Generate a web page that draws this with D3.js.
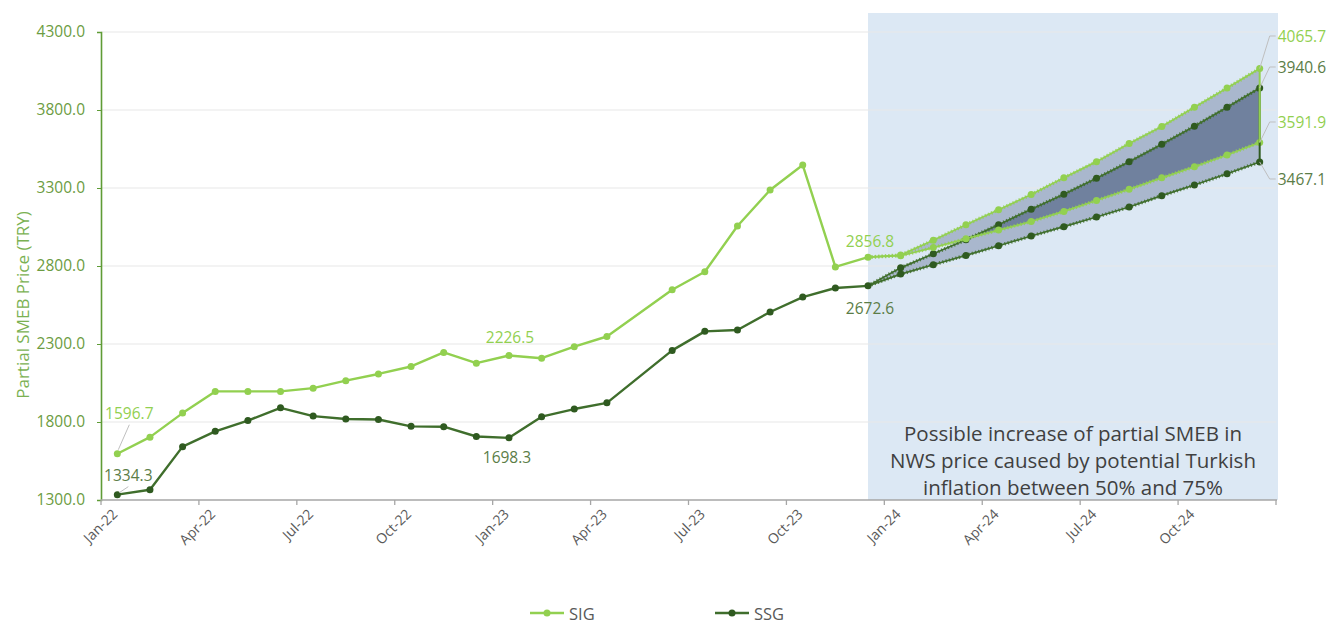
<!DOCTYPE html>
<html>
<head>
<meta charset="utf-8">
<script src="https://cdn.jsdelivr.net/npm/d3@7/dist/d3.min.js"></script>
<style>
  html, body { margin: 0; padding: 0; background: #ffffff; }
  svg { display: block; font-family: "Open Sans", "Noto Sans", sans-serif; }
</style>
</head>
<body>
<svg id="chart" width="1344" height="624"></svg>
<script>
// Monthly categories, Jan-22 .. Dec-24
const months = [
  "Jan-22","Feb-22","Mar-22","Apr-22","May-22","Jun-22","Jul-22","Aug-22","Sep-22","Oct-22","Nov-22","Dec-22",
  "Jan-23","Feb-23","Mar-23","Apr-23","May-23","Jun-23","Jul-23","Aug-23","Sep-23","Oct-23","Nov-23","Dec-23",
  "Jan-24","Feb-24","Mar-24","Apr-24","May-24","Jun-24","Jul-24","Aug-24","Sep-24","Oct-24","Nov-24","Dec-24"
];
const histMonths = months.slice(0, 24);
const projMonths = months.slice(23);   // Dec-23 anchor + 2024

// Observed partial SMEB prices (TRY); May-23 not collected
const sig = [1596.7, 1703, 1857, 1996, 1996, 1996, 2017, 2065, 2108, 2156, 2246, 2177,
             2226.5, 2209, 2283, 2348, null, 2648, 2763, 3056, 3287, 3447, 2794, 2856.8];
const ssg = [1334.3, 1366, 1642, 1740, 1809, 1891, 1838, 1819, 1816, 1772, 1770, 1707,
             1698.3, 1834, 1883, 1923, null, 2259, 2381, 2390, 2505, 2601, 2659, 2672.6];

// 2024 projections under 75% and 50% inflation
const sig75 = [2870, 2965, 3065, 3160, 3258, 3365, 3469, 3585, 3694, 3817, 3941, 4065.7];
const ssg75 = [2788, 2878, 2968, 3065, 3164, 3260, 3362, 3469, 3580, 3696, 3817, 3940.6];
const sig50 = [2866, 2918, 2975, 3030, 3085, 3150, 3220, 3292, 3365, 3436, 3512, 3591.9];
const ssg50 = [2748, 2808, 2868, 2930, 2992, 3052, 3114, 3178, 3251, 3319, 3391, 3467.1];

const yTicks = [1300, 1800, 2300, 2800, 3300, 3800, 4300];
const xTickMonths = ["Jan-22","Apr-22","Jul-22","Oct-22","Jan-23","Apr-23","Jul-23","Oct-23","Jan-24","Apr-24","Jul-24","Oct-24"];
const seriesNames = ["SIG", "SSG"];
const noteLines = [
  "Possible increase of partial SMEB in",
  "NWS price caused by potential Turkish",
  "inflation between 50% and 75%"
];

const C = {
  sig: "#92d050", ssg: "#3f6e2c", ssgDot: "#2f5a20",
  band: "#a9b7cd", overlap: "#70819e", box: "#dce8f4",
  grid: "#e7e7e7", sigText: "#92d050", ssgText: "#5b7d47",
  yAxis: "#5f9c36", yText: "#6c9c42", yTitle: "#7ab152",
  xAxis: "#a6a6a6", xText: "#595959", note: "#404040", leader: "#bfbfbf"
};

const svg = d3.select("#chart");
const plotL = 101, plotR = 1276, plotT = 32, plotB = 500;

const x = d3.scaleBand().domain(months).range([plotL, plotR]).padding(0);
const cx = m => x(m) + x.bandwidth() / 2;
const y = d3.scaleLinear().domain([1300, 4300]).range([plotB, plotT]);

const hist = (vals) => histMonths.map((m, i) => ({ m, v: vals[i] }));
const proj = (anchor, vals) => projMonths.map((m, i) => ({ m, v: i === 0 ? anchor : vals[i - 1] }));

const sigHist = hist(sig), ssgHist = hist(ssg);
const sig75P = proj(sig[23], sig75), sig50P = proj(sig[23], sig50);
const ssg75P = proj(ssg[23], ssg75), ssg50P = proj(ssg[23], ssg50);

// Projection window background
svg.append("rect")
  .attr("x", cx("Dec-23"))
  .attr("y", plotT - 19)
  .attr("width", plotR + 2 - cx("Dec-23"))
  .attr("height", plotB - (plotT - 19))
  .attr("fill", C.box);

// Gridlines
svg.append("g").selectAll("line").data(yTicks.slice(1)).join("line")
  .attr("x1", plotL).attr("x2", plotR)
  .attr("y1", d => y(d)).attr("y2", d => y(d))
  .attr("stroke", C.grid).attr("stroke-width", 1.2);

// Projection bands
const band = d3.area().x(d => cx(d.m)).y0(d => y(d.lo)).y1(d => y(d.hi));
const sigBand = sig75P.map((d, i) => ({ m: d.m, hi: d.v, lo: sig50P[i].v }));
const ssgBand = ssg75P.map((d, i) => ({ m: d.m, hi: d.v, lo: ssg50P[i].v }));

svg.append("path").attr("d", band(sigBand)).attr("fill", C.band);
svg.append("path").attr("d", band(ssgBand)).attr("fill", C.band);

const defs = svg.append("defs");
defs.append("clipPath").attr("id", "sigBandClip")
  .append("path").attr("d", band(sigBand));
svg.append("path").attr("d", band(ssgBand))
  .attr("fill", C.overlap).attr("clip-path", "url(#sigBandClip)");

const line = d3.line().defined(d => d.v != null).x(d => cx(d.m)).y(d => y(d.v));

// Projection lines
function projLine(data, color, dotColor) {
  svg.append("path").attr("d", line(data)).attr("fill", "none")
    .attr("stroke", color).attr("stroke-width", 3.6)
    .attr("stroke-dasharray", "1.2,2.2").attr("opacity", 0.85);
  svg.append("path").attr("d", line(data)).attr("fill", "none")
    .attr("stroke", color).attr("stroke-width", 1.7);
  svg.append("g").selectAll("circle").data(data.slice(1)).join("circle")
    .attr("cx", d => cx(d.m)).attr("cy", d => y(d.v)).attr("r", 3.5)
    .attr("fill", dotColor);
}
projLine(ssg50P, C.ssg, C.ssgDot);
projLine(ssg75P, C.ssg, C.ssgDot);
projLine(sig50P, C.sig, C.sig);
projLine(sig75P, C.sig, C.sig);

// Band closing edges at Dec-24
const lastM = months[months.length - 1];
svg.append("line").attr("x1", cx(lastM)).attr("x2", cx(lastM))
  .attr("y1", y(ssg75[11])).attr("y2", y(ssg50[11]))
  .attr("stroke", C.ssgDot).attr("stroke-width", 2);
svg.append("line").attr("x1", cx(lastM)).attr("x2", cx(lastM))
  .attr("y1", y(sig75[11])).attr("y2", y(sig50[11]))
  .attr("stroke", C.sig).attr("stroke-width", 2);

// Observed series
const lineAll = d3.line().x(d => cx(d.m)).y(d => y(d.v));
function histLine(data, color, dotColor) {
  const pts = data.filter(d => d.v != null);
  svg.append("path").attr("d", lineAll(pts)).attr("fill", "none")
    .attr("stroke", color).attr("stroke-width", 2.4).attr("stroke-linejoin", "round");
  svg.append("g").selectAll("circle").data(pts).join("circle")
    .attr("cx", d => cx(d.m)).attr("cy", d => y(d.v)).attr("r", 3.5)
    .attr("fill", dotColor);
}
histLine(sigHist, C.sig, C.sig);
histLine(ssgHist, C.ssg, C.ssgDot);

// Y axis
const yAxis = svg.append("g").attr("transform", `translate(${plotL},0)`)
  .call(d3.axisLeft(y).tickValues(yTicks).tickFormat(d3.format(".1f")).tickSize(4).tickPadding(12));
yAxis.select(".domain").attr("stroke", C.yAxis).attr("stroke-width", 1.6);
yAxis.selectAll(".tick line").attr("stroke", C.yAxis);
yAxis.selectAll(".tick text").attr("fill", C.yText)
  .style("font-size", "15.5px").style("font-family", "'Open Sans', sans-serif");

svg.append("text")
  .attr("transform", `translate(22,305) rotate(-90)`)
  .attr("text-anchor", "middle").attr("dominant-baseline", "central")
  .attr("fill", C.yTitle).style("font-size", "17px")
  .text("Partial SMEB Price (TRY)");

// X axis
const xg = svg.append("g");
xg.append("line").attr("x1", plotL).attr("x2", plotR + 1)
  .attr("y1", plotB).attr("y2", plotB)
  .attr("stroke", C.xAxis).attr("stroke-width", 1.5);
const tickPos = xTickMonths.map(m => x(m)).concat([plotR]);
xg.selectAll("line.tk").data(tickPos).join("line").attr("class", "tk")
  .attr("x1", d => d).attr("x2", d => d)
  .attr("y1", plotB).attr("y2", plotB + 5)
  .attr("stroke", C.xAxis).attr("stroke-width", 1.3);
xg.selectAll("text").data(xTickMonths).join("text")
  .attr("transform", m => `translate(${cx(m) + 1},${plotB + 15}) rotate(-45)`)
  .attr("text-anchor", "end")
  .attr("fill", C.xText).style("font-size", "14px")
  .text(m => m);

// Value labels
const fmt = d3.format(".1f");
function valueLabel(m, v, dx, dy, color, size) {
  svg.append("text")
    .attr("x", cx(m) + dx).attr("y", y(v) + dy)
    .attr("text-anchor", "middle").attr("dominant-baseline", "central")
    .attr("fill", color).style("font-size", size + "px")
    .text(fmt(v));
}
function leader(pts) {
  svg.append("path").attr("d", d3.line()(pts)).attr("fill", "none")
    .attr("stroke", C.leader).attr("stroke-width", 1);
}
leader([[cx("Jan-22") + 1, y(sig[0]) - 4], [cx("Jan-22") + 12, y(sig[0]) - 29]]);
valueLabel("Jan-22", sig[0], 12, -41, C.sigText, 15.5);
leader([[cx("Jan-22") + 2, y(ssg[0]) - 2], [cx("Jan-22") + 11, y(ssg[0]) - 8]]);
valueLabel("Jan-22", ssg[0], 11, -20, C.ssgText, 15.5);
valueLabel("Jan-23", sig[12], 1, -18, C.sigText, 15.5);
valueLabel("Jan-23", ssg[12], -2, 19, C.ssgText, 15.5);
valueLabel("Dec-23", sig[23], 2, -16, C.sigText, 15.5);
valueLabel("Dec-23", ssg[23], 2, 22, C.ssgText, 15.5);

// End-of-projection labels with elbow leaders
const endLabels = [
  { v: sig75[11], ty: 36, color: C.sigText },
  { v: ssg75[11], ty: 67, color: C.ssgText },
  { v: sig50[11], ty: 122, color: C.sigText },
  { v: ssg50[11], ty: 179, color: C.ssgText }
];
const ex = cx(lastM);
endLabels.forEach(d => {
  leader([[ex, y(d.v)], [ex + 10, d.ty], [ex + 16, d.ty]]);
  svg.append("text").attr("x", ex + 18).attr("y", d.ty)
    .attr("dominant-baseline", "central")
    .attr("fill", d.color).style("font-size", "15.5px")
    .text(fmt(d.v));
});

// Note inside the projection window
const noteX = (cx("Dec-23") + plotR + 2) / 2;
svg.append("g").selectAll("text").data(noteLines).join("text")
  .attr("x", noteX).attr("y", (d, i) => 433 + i * 27)
  .attr("text-anchor", "middle").attr("dominant-baseline", "central")
  .attr("fill", C.note).style("font-size", "20.5px")
  .text(d => d);

// Legend
const legend = svg.append("g").attr("transform", "translate(530,613)");
seriesNames.forEach((name, i) => {
  const g = legend.append("g").attr("transform", `translate(${i * 185},0)`);
  const col = i === 0 ? C.sig : C.ssg;
  const dot = i === 0 ? C.sig : C.ssgDot;
  g.append("line").attr("x1", 0).attr("x2", 34).attr("y1", 0).attr("y2", 0)
    .attr("stroke", col).attr("stroke-width", 2.4);
  g.append("circle").attr("cx", 17).attr("cy", 0).attr("r", 3.5).attr("fill", dot);
  g.append("text").attr("x", 39).attr("y", 0).attr("dominant-baseline", "central")
    .attr("fill", C.xText).style("font-size", "16.5px").text(name);
});
</script>
</body>
</html>
